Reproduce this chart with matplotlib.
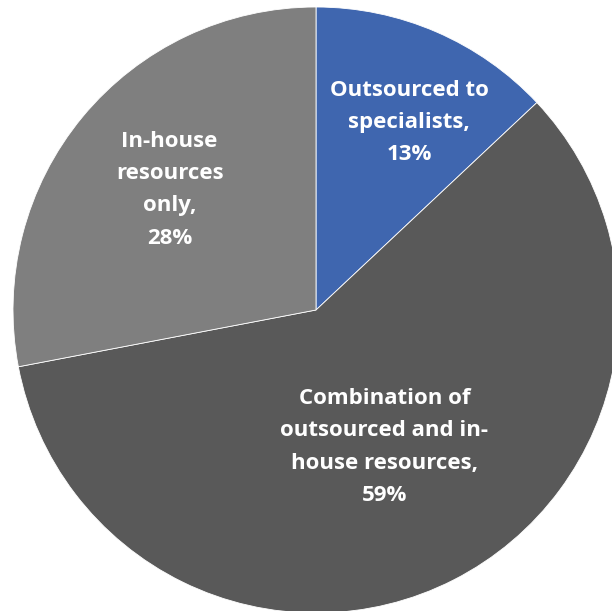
import matplotlib
matplotlib.use("Agg")
import matplotlib.pyplot as plt
import numpy as np

# share of respondents by resourcing approach
labels = ["Outsourced to\nspecialists,", "Combination of\noutsourced and in-\nhouse resources,", "In-house\nresources\nonly,"]
shares = [13, 59, 28]

COLORS = ["#3F66AF", "#595959", "#7F7F7F"]
LABEL_R = [0.69, 0.505, 0.625]   # radial position of each label, fraction of radius
LABEL_SHIFT = [-3.0, -0.5, 0.2]   # angular nudge from the wedge middle, degrees

fig = plt.figure(figsize=(6.12, 6.11), dpi=100)
ax = fig.add_axes([0, 0, 1, 1])

wedges, _ = ax.pie(shares, colors=COLORS, startangle=90, counterclock=False,
                   radius=1.0, wedgeprops=dict(edgecolor="white", linewidth=0.6))

for w, lab, val, r, d in zip(wedges, labels, shares, LABEL_R, LABEL_SHIFT):
    mid = np.deg2rad((w.theta1 + w.theta2) / 2 + d)
    ax.text(r * np.cos(mid), r * np.sin(mid), f"{lab}\n{val}%", ha="center", va="center",
            color="white", fontsize=16, fontweight="bold", family="Open Sans",
            linespacing=1.7)

ax.set_xlim(-316 / 303, 296 / 303)
ax.set_ylim(-301 / 303, 310 / 303)
ax.set_aspect("auto")
ax.axis("off")

fig.savefig("out.png", dpi=100)
